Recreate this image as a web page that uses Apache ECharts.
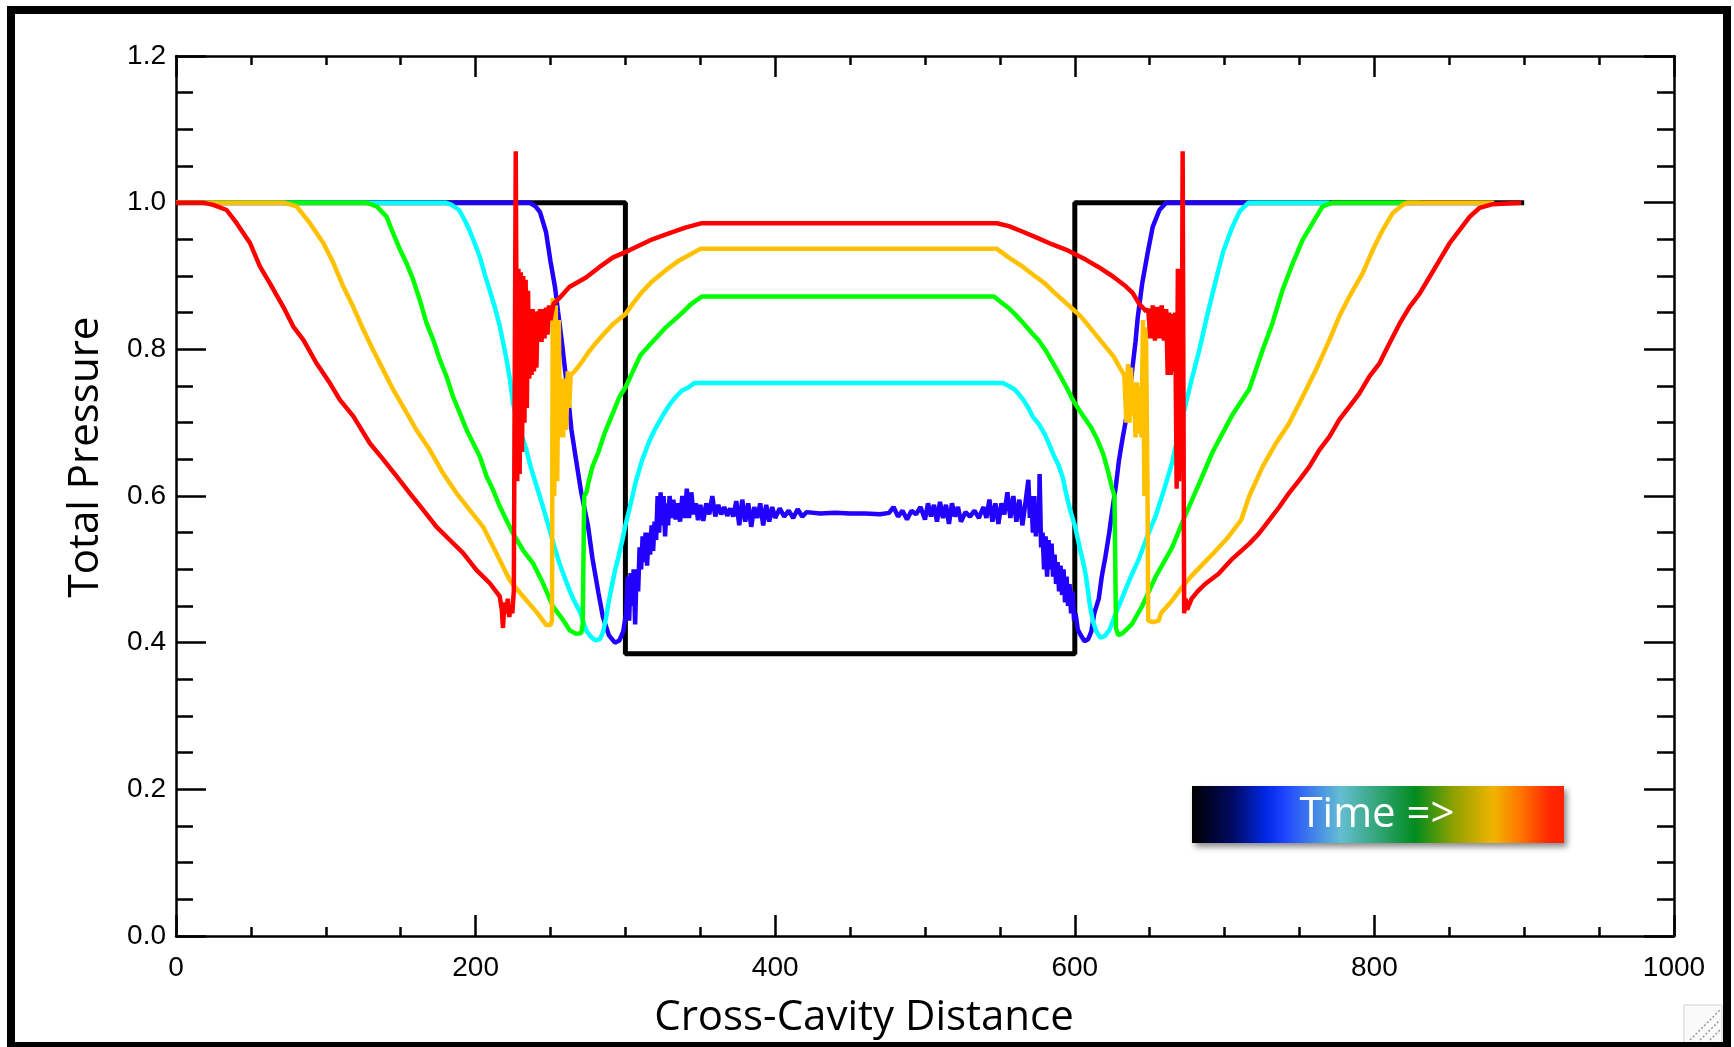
<!DOCTYPE html>
<html>
<head>
<meta charset="utf-8">
<script src="https://cdn.jsdelivr.net/npm/echarts@6/dist/echarts.min.js"></script>
<style>
html,body{margin:0;padding:0;background:#fff;}
#chart{width:1734px;height:1047px;}
</style>
</head>
<body>
<div id="chart"></div>
<script>
// ---- Data (Cross-Cavity Distance, Total Pressure) ----
const xTitle = 'Cross-Cavity Distance';
const yTitle = 'Total Pressure';
const legendText = 'Time =>';

const blackData = [[0,1],[300,1],[300,0.385],[600,0.385],[600,1],[900,1]];

const blueData = [
[0,1],[236,1],[240,0.995],[243,0.987],[247,0.96],[250,0.92],[253,0.885],[255,0.852],[258,0.803],[261.5,0.74],[264,0.69],[267,0.65],[270.5,0.605],[275,0.56],[278,0.515],[282,0.468],[285,0.435],[289,0.41],[293,0.4],[296,0.403],[298.5,0.415],[300.5,0.44],
[301.5,0.49],[302.5,0.43],[303.5,0.495],[304.5,0.45],[305.5,0.5],[306.5,0.425],[307.5,0.5],[308.5,0.47],[309.5,0.53],[310.5,0.5],[311.5,0.545],[312.5,0.51],[313.5,0.55],[314.5,0.505],[315.5,0.55],[316.5,0.52],[317.5,0.56],[318.5,0.525],[319.5,0.565],[320.5,0.54],[321.5,0.6],[322.5,0.55],[323.5,0.605],[324.5,0.56],[325.5,0.6],[326.5,0.545],[327.5,0.59],[328.5,0.56],[329.5,0.6],[330.5,0.57],[332,0.595],[333.5,0.568],[335,0.59],[336.5,0.565],[338,0.6],[339.5,0.57],[341,0.61],[342.5,0.57],[344,0.605],[345.5,0.575],[347,0.59],[348.5,0.567],[350,0.588],[352,0.566],[354,0.59],[356,0.575],[358,0.6],[360,0.572],[362,0.588],[364,0.575],[366,0.585],[368,0.573],[370,0.583],[372,0.572],[374,0.593],[376,0.56],[378,0.595],[380,0.565],[382,0.59],[384,0.558],[386,0.585],[388,0.57],[390,0.59],[392,0.56],[394,0.588],[396,0.565],[398,0.585],[400,0.57],[403,0.583],[406,0.572],[409,0.58],[412,0.57],[415,0.582],[418,0.572],[421,0.578],[430,0.576],[440,0.577],[450,0.576],[460,0.576],[470,0.575],[476,0.577],[479,0.585],[482,0.572],[485,0.58],[488,0.568],[491,0.58],[494,0.575],[497,0.585],[500,0.568],[502,0.59],[504,0.572],[506,0.588],[508,0.565],[510,0.592],[512,0.57],[514,0.588],[516,0.562],[518,0.59],[520,0.572],[522,0.585],[524,0.565],[527,0.578],[530,0.572],[533,0.58],[536,0.57],[539,0.585],[541,0.57],[543,0.595],[545,0.565],[547,0.59],[549,0.562],[551,0.59],[553,0.575],[555,0.605],[557,0.57],[559,0.6],[561,0.565],[563,0.595],[565,0.56],[567,0.59],[569,0.622],[570,0.57],[571,0.6],[572,0.55],[573,0.6],[574,0.545],[575,0.59],[576,0.55],[576.5,0.63],[577.5,0.53],[578.5,0.55],[579.5,0.5],[580.5,0.545],[581.5,0.49],[582.5,0.54],[583.5,0.5],[584.5,0.535],[585.5,0.49],[586.5,0.52],[587.5,0.48],[588.5,0.51],[589.5,0.47],[590.5,0.505],[591.5,0.465],[592.5,0.5],[593.5,0.455],[594.5,0.49],[595.5,0.45],[596.5,0.48],[597.5,0.44],[598.5,0.47],[599.5,0.43],[600.5,0.44],
[602,0.418],[604,0.41],[606.5,0.402],[609,0.405],[611,0.415],[613,0.44],[616,0.46],[618,0.49],[620.5,0.518],[623,0.55],[625,0.58],[627.5,0.615],[629.5,0.649],[632,0.68],[634,0.702],[636.5,0.74],[638.5,0.775],[640.5,0.81],[642,0.843],[645,0.89],[648.5,0.93],[652,0.967],[656.5,0.99],[661,1],[720,1]
];

const cyanData = [
[0,1],[180,1],[184,0.997],[189,0.99],[193,0.975],[196,0.962],[199.5,0.944],[203,0.925],[206,0.903],[209.5,0.88],[213,0.856],[216,0.833],[218.5,0.808],[220.5,0.788],[223,0.758],[225,0.726],[229,0.695],[234,0.662],[237,0.638],[240.5,0.615],[245,0.585],[249.5,0.553],[253,0.528],[256,0.508],[260,0.486],[263,0.47],[266,0.456],[269.5,0.443],[272,0.428],[274,0.416],[277,0.408],[280,0.403],[283,0.405],[285,0.414],[287,0.433],[289,0.457],[291,0.478],[293,0.498],[295.5,0.518],[298,0.54],[300,0.56],[303,0.585],[307,0.62],[311,0.648],[316,0.675],[320,0.692],[325,0.71],[330,0.726],[334,0.736],[338,0.744],[342,0.748],[346,0.754],[552,0.754],
[556,0.75],[560,0.745],[563,0.738],[566,0.73],[569,0.72],[572,0.708],[576,0.698],[580,0.684],[583,0.67],[586,0.655],[589,0.643],[592,0.625],[594,0.605],[597,0.58],[600,0.56],[603,0.532],[605.5,0.51],[607.5,0.49],[610,0.452],[612,0.43],[614.5,0.415],[617,0.407],[620,0.409],[623,0.417],[627,0.438],[632,0.463],[637,0.488],[643,0.515],[648,0.543],[654,0.573],[659.5,0.608],[665,0.646],[669.5,0.688],[674,0.725],[678.5,0.763],[683,0.798],[688,0.843],[694,0.893],[699,0.933],[705,0.966],[710,0.988],[716,1],[770,1]
];

const greenData = [
[0,1],[127,1],[134,0.995],[140.5,0.981],[145,0.958],[149.5,0.936],[154,0.917],[158.3,0.895],[162.8,0.867],[167.2,0.836],[171.7,0.813],[176.1,0.786],[180.6,0.763],[185,0.735],[189.5,0.713],[194,0.69],[198.4,0.672],[202.8,0.654],[207.3,0.627],[211.7,0.608],[216.1,0.586],[220.6,0.567],[225,0.549],[231.7,0.526],[238.4,0.508],[245,0.481],[251.7,0.449],[258.4,0.431],[262.8,0.417],[267,0.412],[270.5,0.413],[271.5,0.425],[272.5,0.6],[274,0.605],[275.5,0.62],[278,0.64],[282,0.66],[286,0.685],[291,0.71],[296,0.735],[300,0.748],[305,0.77],[310,0.792],[318,0.81],[327,0.83],[337,0.848],[344,0.862],[351,0.872],[546,0.872],
[551,0.864],[556,0.856],[561,0.846],[566,0.835],[571,0.823],[576,0.812],[581,0.797],[585,0.783],[590,0.765],[594.5,0.748],[599,0.73],[603,0.717],[607,0.705],[611,0.693],[615,0.677],[619,0.657],[622,0.635],[625,0.61],[626.5,0.6],[627.5,0.42],[629,0.41],[632,0.413],[638,0.425],[645,0.45],[654,0.49],[665,0.53],[674,0.575],[683,0.617],[692,0.66],[705,0.71],[716.5,0.746],[725.4,0.799],[732,0.836],[738.7,0.881],[745.4,0.917],[752,0.949],[758.7,0.972],[765.4,0.995],[772,1],[830,1]
];

const orangeData = [
[0,1],[72,1],[80.5,0.995],[89.4,0.972],[98.3,0.945],[105,0.918],[111.6,0.886],[118.3,0.858],[125,0.827],[131.6,0.799],[138.3,0.772],[145,0.745],[151.6,0.722],[160.5,0.69],[169.4,0.663],[178.3,0.631],[187.2,0.604],[196,0.581],[205,0.558],[213.9,0.522],[222.8,0.485],[231.7,0.463],[240.6,0.442],[247.2,0.424],[250,0.424],[251,0.43],
[251.5,0.87],[252.5,0.6],[253.5,0.86],[254.5,0.62],[255.5,0.84],[256.5,0.68],[257.5,0.76],[258.5,0.68],[259.5,0.76],[260.5,0.69],[261.5,0.77],[262.5,0.72],[263.5,0.765],
[266,0.77],[270,0.78],[275,0.795],[280,0.808],[286,0.822],[292,0.835],[300,0.848],[306,0.865],[311,0.878],[318,0.893],[327,0.908],[335,0.92],[342,0.928],[350,0.937],[548,0.937],
[556,0.925],[565,0.913],[572,0.902],[580,0.89],[586,0.878],[592,0.867],[598,0.856],[604,0.845],[610,0.83],[616,0.815],[622,0.8],[626,0.79],[630,0.775],[633,0.765],
[634.5,0.7],[635.5,0.78],[636.5,0.7],[637.5,0.775],[638.5,0.71],[639.5,0.755],[640.5,0.68],[641.5,0.755],[642.5,0.685],[643.5,0.75],[644.5,0.68],[645.5,0.84],[646.5,0.6],[647.5,0.83],[648.5,0.62],[649,0.43],
[652,0.428],[656,0.43],[657.5,0.44],[664,0.455],[671,0.474],[677.5,0.49],[684,0.504],[693,0.523],[702,0.543],[711,0.567],[716.5,0.6],[725.4,0.64],[734.3,0.672],[743,0.699],[752,0.735],[761,0.772],[770,0.813],[776.6,0.845],[783.3,0.872],[792.2,0.904],[799,0.936],[805.6,0.963],[812.3,0.986],[819,0.997],[822,1],[880,1]
];

const redData = [
[0,1],[18,1],[24.9,0.997],[33.8,0.99],[40.5,0.972],[49.4,0.945],[56,0.913],[62.7,0.89],[71.6,0.858],[78.3,0.831],[85,0.813],[93.8,0.781],[102.7,0.754],[109.4,0.731],[118.3,0.709],[129.4,0.672],[138.3,0.65],[147.2,0.627],[156,0.604],[165,0.581],[173.9,0.558],[182.8,0.54],[191.7,0.522],[200.6,0.499],[209.5,0.481],[216.1,0.463],
[217.5,0.445],[218.3,0.42],[219.2,0.455],[220.5,0.44],[221.5,0.46],[222.5,0.435],[223.5,0.45],[224.5,0.44],[225.5,0.47],[226,0.47],
[226.8,1.07],[227.8,0.62],[228.6,0.91],[229.4,0.63],[230.2,0.905],[231,0.66],[231.8,0.9],[232.6,0.7],[233.4,0.895],[234.2,0.72],[235,0.88],[235.8,0.76],[236.6,0.855],[237.4,0.765],[238.2,0.855],[239,0.77],[239.8,0.85],[240.6,0.775],[241.4,0.852],[242.2,0.81],[243,0.855],[244,0.81],[245,0.855],[246,0.815],[247,0.857],[248,0.82],[249,0.86],[250,0.84],
[252,0.862],[256,0.87],[262.6,0.885],[273.7,0.898],[282.6,0.912],[291.5,0.925],[302.6,0.935],[318,0.95],[329,0.958],[340,0.966],[351,0.972],[548,0.972],
[556,0.968],[565.7,0.96],[575,0.952],[585,0.943],[594,0.936],[600,0.93],[607.5,0.922],[616,0.912],[625,0.9],[634,0.886],[638.6,0.877],[643,0.862],[647.6,0.852],
[649,0.855],[650.5,0.815],[652,0.86],[653.5,0.812],[655,0.858],[656.5,0.815],[658,0.86],[659.5,0.812],[661,0.855],[662,0.765],[663,0.85],[664,0.765],[665,0.848],[666,0.77],[667,0.85],[668,0.61],[668.8,0.91],[669.6,0.62],[670.4,0.905],[671.2,0.63],[672,1.07],[673,0.44],
[674,0.46],[675,0.445],[678,0.46],[682,0.47],[687,0.48],[696,0.494],[705,0.514],[716.5,0.535],[723,0.549],[729.8,0.567],[736.5,0.585],[743,0.604],[750,0.622],[756.6,0.64],[763.3,0.663],[770,0.681],[776.6,0.704],[783.3,0.722],[790,0.74],[796.7,0.763],[803.4,0.781],[810,0.808],[816.8,0.835],[823.5,0.858],[830.2,0.876],[836.9,0.899],[843.6,0.922],[850.3,0.945],[857,0.963],[863.7,0.981],[870.3,0.993],[879,0.998],[898,1]
];

// ---- Styling ----
const seriesList = [
  {name:'t0', data: blackData,  color:'#000000', width:5},
  {name:'t1', data: blueData,   color:'#2200FF', width:4.5},
  {name:'t2', data: cyanData,   color:'#00FFFF', width:4.5},
  {name:'t3', data: greenData,  color:'#00FF00', width:4.5},
  {name:'t4', data: orangeData, color:'#FFC000', width:4.5},
  {name:'t5', data: redData,    color:'#FF0000', width:4.5}
];

const chart = echarts.init(document.getElementById('chart'), null, {renderer:'canvas'});

const axisLineStyle = {color:'#000', width:2.5};
const labelFont = {color:'#000', fontFamily:'Liberation Sans', fontSize:28};

function xAxisCfg(pos, showLabel){
  return {
    type:'value', position:pos, min:0, max:1000, interval:200,
    axisLine:{show:true, onZero:false, lineStyle:axisLineStyle},
    axisTick:{show:true, inside:true, length:21, lineStyle:axisLineStyle},
    minorTick:{show:true, splitNumber:4, length:9, lineStyle:axisLineStyle},
    splitLine:{show:false}, minorSplitLine:{show:false},
    axisLabel:Object.assign({show:showLabel, margin:18, formatter:v=>String(Math.round(v))}, labelFont)
  };
}
function yAxisCfg(pos, showLabel){
  return {
    type:'value', position:pos, min:0, max:1.2, interval:0.2,
    axisLine:{show:true, onZero:false, lineStyle:axisLineStyle},
    axisTick:{show:true, inside:true, length:30, lineStyle:axisLineStyle},
    minorTick:{show:true, splitNumber:4, length:17, lineStyle:axisLineStyle},
    splitLine:{show:false}, minorSplitLine:{show:false},
    axisLabel:Object.assign({show:showLabel, margin:10, formatter:v=>v.toFixed(1)}, labelFont)
  };
}

const option = {
  animation:false,
  backgroundColor:'#ffffff',
  grid:{left:176, right:60, top:56, bottom:111, containLabel:false},
  xAxis:[xAxisCfg('bottom', true), xAxisCfg('top', false)],
  yAxis:[yAxisCfg('left', true), yAxisCfg('right', false)],
  series: seriesList.map(s => ({
    type:'line', name:s.name, data:s.data, xAxisIndex:0, yAxisIndex:0,
    showSymbol:false, symbol:'none', smooth:false,
    lineStyle:{color:s.color, width:s.width, join:'bevel'},
    itemStyle:{color:s.color}, silent:true
  })),
  graphic:[
    {type:'text', x:86, y:457, rotation:Math.PI/2, z:50,
     style:{text:yTitle, font:'42px "Open Sans"', fill:'#000', align:'center', verticalAlign:'middle'}},
    {type:'text', x:864, y:1018, z:50,
     style:{text:xTitle, font:'42px "Open Sans"', fill:'#000', align:'center', verticalAlign:'middle'}},
    {type:'rect', shape:{x:1192, y:786, width:372, height:57}, z:50,
     style:{
       fill:new echarts.graphic.LinearGradient(0,0,1,0,[
         {offset:0, color:'#000000'},
         {offset:0.11, color:'#000a64'},
         {offset:0.2, color:'#0028e6'},
         {offset:0.25, color:'#1e46ff'},
         {offset:0.4, color:'#64bed2'},
         {offset:0.6, color:'#008c1e'},
         {offset:0.7, color:'#8ca000'},
         {offset:0.81, color:'#f0b400'},
         {offset:0.88, color:'#ff7800'},
         {offset:0.96, color:'#ff2800'},
         {offset:1, color:'#ff2000'}
       ]),
       shadowBlur:6, shadowOffsetX:3, shadowOffsetY:4, shadowColor:'rgba(0,0,0,0.45)'
     }},
    {type:'text', x:1377, y:815, z:51,
     style:{text:legendText, font:'42px "Open Sans"', fill:'#ffffff', align:'center', verticalAlign:'middle'}},
    {type:'rect', shape:{x:11, y:10, width:1716, height:1036}, z:100,
     style:{fill:'none', stroke:'#000', lineWidth:8}},
    {type:'rect', shape:{x:1684, y:1005, width:38, height:38}, z:90,
     style:{fill:'#fafafa', stroke:'#d0d0d0', lineWidth:1}},
    {type:'line', shape:{x1:1690, y1:1040, x2:1720, y2:1010}, z:91, style:{stroke:'#999', lineWidth:1.5, lineDash:[2,2]}},
    {type:'line', shape:{x1:1700, y1:1040, x2:1720, y2:1020}, z:91, style:{stroke:'#999', lineWidth:1.5, lineDash:[2,2]}},
    {type:'line', shape:{x1:1710, y1:1040, x2:1720, y2:1030}, z:91, style:{stroke:'#999', lineWidth:1.5, lineDash:[2,2]}}
  ]
};
chart.setOption(option);
</script>
</body>
</html>
